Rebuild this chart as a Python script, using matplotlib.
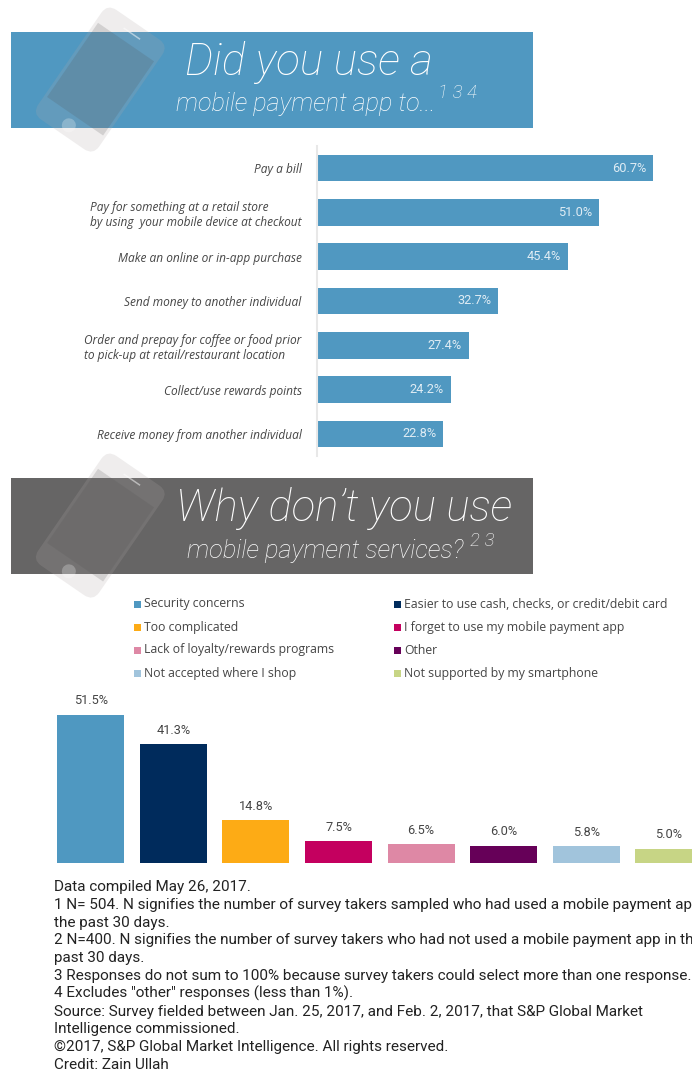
import matplotlib
matplotlib.use('Agg')
import matplotlib.pyplot as plt
from matplotlib.patches import FancyBboxPatch, Rectangle, Circle
from matplotlib.transforms import Affine2D

W, H = 692, 1071

# share of respondents, percent
use_labels = ['Pay a bill',
              'Pay for something at a retail store\nby using  your mobile device at checkout',
              'Make an online or in-app purchase',
              'Send money to another individual',
              'Order and prepay for coffee or food prior\nto pick-up at retail/restaurant location',
              'Collect/use rewards points',
              'Receive money from another individual']
use_values = [60.7, 51.0, 45.4, 32.7, 27.4, 24.2, 22.8]

why_labels = ['Security concerns', 'Easier to use cash, checks, or credit/debit card',
              'Too complicated', 'I forget to use my mobile payment app',
              'Lack of loyalty/rewards programs', 'Other',
              'Not accepted where I shop', 'Not supported by my smartphone']
why_values = [51.5, 41.3, 14.8, 7.5, 6.5, 6.0, 5.8, 5.0]
why_colors = ['#4f98c1', '#002b5c', '#fdab15', '#c4005f',
              '#de88a5', '#660058', '#a1c4dc', '#c7d585']

notes = ['Data compiled May 26, 2017.',
         '1 N= 504. N signifies the number of survey takers sampled who had used a mobile payment app in',
         'the past 30 days.',
         '2 N=400. N signifies the number of survey takers who had not used a mobile payment app in the',
         'past 30 days.',
         '3 Responses do not sum to 100% because survey takers could select more than one response.',
         '4 Excludes "other" responses (less than 1%).',
         'Source: Survey fielded between Jan. 25, 2017, and Feb. 2, 2017, that S&P Global Market',
         'Intelligence commissioned.',
         '©2017, S&P Global Market Intelligence. All rights reserved.',
         'Credit: Zain Ullah']

BLUE = '#5098c1'
GREY = '#666565'
INK = '#454545'

plt.rcParams['font.family'] = ['Roboto', 'DejaVu Sans']


def axes_px(fig, left, top, right, bottom):
    return fig.add_axes([left / W, 1 - bottom / H, (right - left) / W, (bottom - top) / H])


def draw_phone(ax, dy):
    # tilted handset laid over the banner, semi transparent
    rot = Affine2D().rotate_deg_around(100, 80 + dy, 34.5) + ax.transData
    body = FancyBboxPatch((63, 13 + dy), 74, 133, boxstyle='round,pad=0,rounding_size=11',
                          fc='#b0a8a8', ec='none', alpha=0.2, transform=rot, zorder=3)
    screen = Rectangle((66, 34 + dy), 68, 90, fc='#505050', ec='none', alpha=0.18,
                       transform=rot, zorder=4)
    button = Circle((100, 135 + dy), 7, fc='white', ec='none', alpha=0.25, transform=rot, zorder=4)
    speaker = Rectangle((90, 23 + dy), 20, 1.5, fc='white', ec='none', alpha=0.5, transform=rot, zorder=4)
    for p in (body, screen, button, speaker):
        ax.add_patch(p)


fig = plt.figure(figsize=(W / 100, H / 100), dpi=100, facecolor='white')

# page layer in pixel coordinates for banners, legend and notes
page = fig.add_axes([0, 0, 1, 1], zorder=5)
page.set_xlim(0, W)
page.set_ylim(H, 0)
page.axis('off')

page.add_patch(Rectangle((11, 32), 522, 96, fc=BLUE, ec='none', zorder=1))
page.add_patch(Rectangle((11, 478), 522, 96, fc=GREY, ec='none', zorder=1))
draw_phone(page, 0)
draw_phone(page, 446)

title = dict(color='white', style='italic', weight='light', zorder=6, va='center')
page.text(185, 63, 'Did you use a', fontsize=31.8, **title)
page.text(176, 104, 'mobile payment app to...', fontsize=18.2, **title)
page.text(438, 93, '1 3 4', fontsize=13.5, **title)
page.text(176, 509, 'Why don\u2019t you use', fontsize=31.6, **title)
page.text(187, 551, 'mobile payment services?', fontsize=18.4, **title)
page.text(470, 541, '2 3', fontsize=13.5, **title)

# legend, filled row by row in two columns
for i, (lab, col) in enumerate(zip(why_labels, why_colors)):
    x = 134 if i % 2 == 0 else 394
    y = 604 + 23 * (i // 2)
    page.add_patch(Rectangle((x, y - 3.5), 7, 7, fc=col, ec='none'))
    page.text(x + 10.5, y, lab, fontsize=8.8, color=INK, va='center', family='Open Sans')

for i, line in enumerate(notes):
    page.text(54, 887 + 17.8 * i, line, fontsize=10.95, color='#222222', va='center', clip_on=True)

# horizontal bars
ax1 = axes_px(fig, 317, 146, W, 456)
ax1.barh(range(len(use_values)), use_values, height=0.6, color=BLUE)
ax1.set_xlim(0, (W - 317) / 5.535)
ax1.set_ylim(len(use_values) - 0.5, -0.5)
ax1.set_yticks(range(len(use_labels)))
ax1.set_yticklabels(use_labels, fontsize=8.6, style='italic', color=INK, ma='left',
                    linespacing=1.2, family='Open Sans')
ax1.tick_params(axis='y', length=0, pad=11)
ax1.set_xticks([])
for s in ('top', 'right', 'bottom'):
    ax1.spines[s].set_visible(False)
ax1.spines['left'].set_color('#e8e8e8')
ax1.spines['left'].set_linewidth(1.5)
for i, v in enumerate(use_values):
    ax1.annotate('%.1f%%' % v, (v, i), xytext=(-5, 0), textcoords='offset points',
                 ha='right', va='center', color='#dfecf4', fontsize=9.2)

# column chart, the last column runs off the page edge
ax2 = axes_px(fig, 49.4, 690, W, 863)
ax2.bar(range(len(why_values)), why_values, width=0.81, color=why_colors)
ax2.set_xlim(-0.5, 7.28)
ax2.set_ylim(0, 173 / 2.876)
ax2.axis('off')
for i, v in enumerate(why_values):
    ax2.annotate('%.1f%%' % v, (i, v), xytext=(0, 5.5), textcoords='offset points',
                 ha='center', va='bottom', color=INK, fontsize=9.2)

fig.savefig('out.png', dpi=100)
